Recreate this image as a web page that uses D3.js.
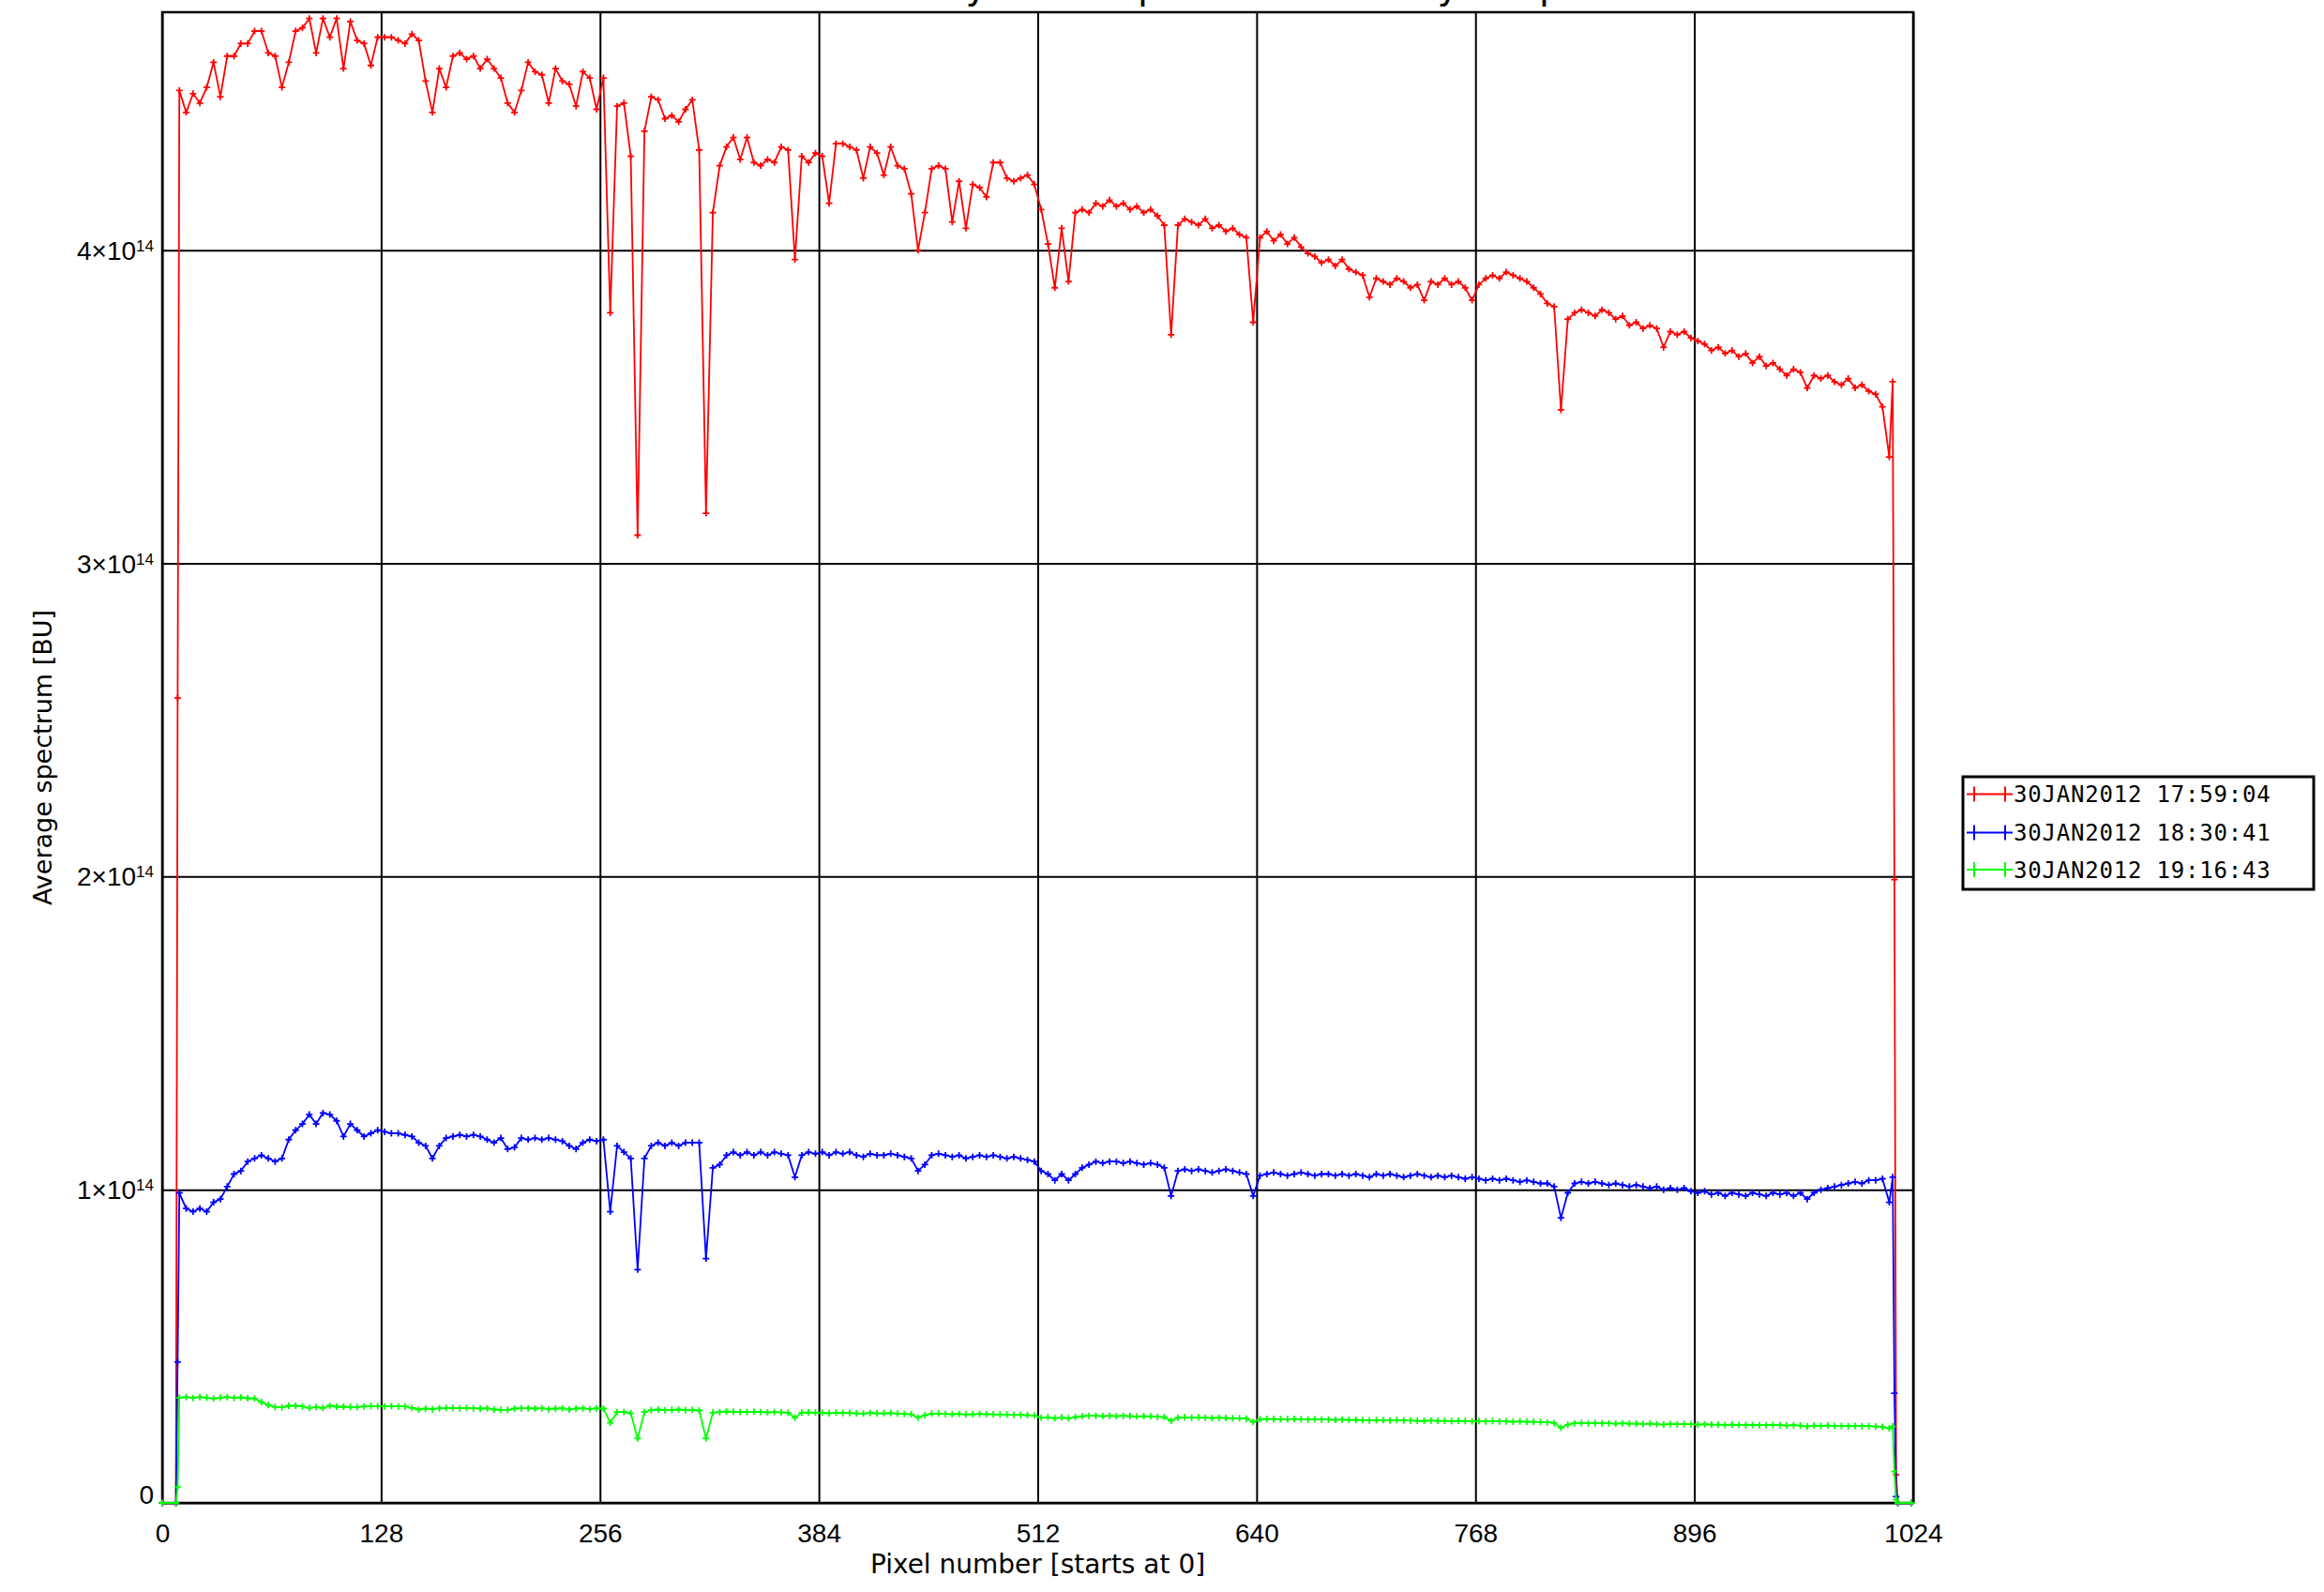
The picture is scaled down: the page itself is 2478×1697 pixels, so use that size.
<!DOCTYPE html>
<html><head><meta charset="utf-8">
<script src="https://cdn.jsdelivr.net/npm/d3@7"></script>
<style>html,body{margin:0;padding:0;background:#fff;} svg{display:block}</style>
</head><body>
<svg id="chart" width="2478" height="1697"></svg>
<script>
// Pixel numbers (x categories) at which values were read
const pixels = [0, 8, 9,
10,14,18,22,26,30,34,38,42,46,
50,54,58,62,66,70,74,78,82,86,
90,94,98,102,106,110,114,118,122,126,
130,134,138,142,146,150,154,158,162,166,
170,174,178,182,186,190,194,198,202,206,
210,214,218,222,226,230,234,238,242,246,
250,254,258,262,266,270,274,278,282,286,
290,294,298,302,306,310,314,318,322,326,
330,334,338,342,346,350,354,358,362,366,
370,374,378,382,386,390,394,398,402,406,
410,414,418,422,426,430,434,438,442,446,
450,454,458,462,466,470,474,478,482,486,
490,494,498,502,506,510,514,518,522,526,
530,534,538,542,546,550,554,558,562,566,
570,574,578,582,586,590,594,598,602,606,
610,614,618,622,626,630,634,638,642,646,
650,654,658,662,666,670,674,678,682,686,
690,694,698,702,706,710,714,718,722,726,
730,734,738,742,746,750,754,758,762,766,
770,774,778,782,786,790,794,798,802,806,
810,814,818,822,826,830,834,838,842,846,
850,854,858,862,866,870,874,878,882,886,
890,894,898,902,906,910,914,918,922,926,
930,934,938,942,946,950,954,958,962,966,
970,974,978,982,986,990,994,998,1002,1006,
1010, 1012, 1013, 1014, 1015, 1023];

// Values in units of 1e14 BU
const spec1759 = [0, 0, 2.57,
4.51,4.44,4.50,4.47,4.52,4.60,4.49,4.62,4.62,4.66,
4.66,4.70,4.70,4.63,4.62,4.52,4.60,4.70,4.71,4.74,
4.63,4.74,4.68,4.74,4.58,4.73,4.67,4.66,4.59,4.68,
4.68,4.68,4.67,4.66,4.69,4.67,4.54,4.44,4.58,4.52,
4.62,4.63,4.61,4.62,4.58,4.61,4.58,4.55,4.47,4.44,
4.51,4.60,4.57,4.56,4.47,4.58,4.54,4.53,4.46,4.57,
4.55,4.45,4.55,3.80,4.46,4.47,4.30,3.09,4.38,4.49,
4.48,4.42,4.43,4.41,4.45,4.48,4.32,3.16,4.12,4.27,
4.33,4.36,4.29,4.36,4.28,4.27,4.29,4.28,4.33,4.32,
3.97,4.30,4.28,4.31,4.30,4.15,4.34,4.34,4.33,4.32,
4.23,4.33,4.31,4.24,4.33,4.27,4.26,4.18,4.00,4.12,
4.26,4.27,4.26,4.09,4.22,4.07,4.21,4.20,4.17,4.28,
4.28,4.23,4.22,4.23,4.24,4.21,4.13,4.02,3.88,4.07,
3.90,4.12,4.13,4.12,4.15,4.14,4.16,4.14,4.15,4.13,
4.14,4.12,4.13,4.11,4.08,3.73,4.08,4.10,4.09,4.08,
4.10,4.07,4.08,4.06,4.07,4.05,4.04,3.77,4.04,4.06,
4.03,4.05,4.02,4.04,4.01,3.99,3.98,3.96,3.97,3.95,
3.97,3.94,3.93,3.92,3.85,3.91,3.90,3.89,3.91,3.90,
3.88,3.89,3.84,3.90,3.89,3.91,3.89,3.90,3.88,3.84,
3.89,3.91,3.92,3.91,3.93,3.92,3.91,3.90,3.88,3.86,
3.83,3.82,3.49,3.78,3.80,3.81,3.80,3.79,3.81,3.80,
3.78,3.79,3.76,3.77,3.75,3.76,3.75,3.69,3.74,3.73,
3.74,3.72,3.71,3.70,3.68,3.69,3.67,3.68,3.66,3.67,
3.64,3.66,3.63,3.64,3.62,3.60,3.62,3.61,3.56,3.60,
3.59,3.60,3.58,3.57,3.59,3.56,3.57,3.55,3.54,3.50,
3.34, 3.58, 1.99, 0.09, 0, 0];

const spec1830 = [0, 0, 0.45,
0.99,0.94,0.93,0.94,0.93,0.96,0.97,1.01,1.05,1.06,
1.09,1.10,1.11,1.10,1.09,1.10,1.16,1.19,1.21,1.24,
1.21,1.245,1.24,1.22,1.17,1.21,1.19,1.17,1.18,1.19,
1.185,1.18,1.18,1.175,1.17,1.15,1.14,1.10,1.14,1.165,
1.17,1.175,1.17,1.175,1.17,1.16,1.15,1.165,1.13,1.135,
1.165,1.16,1.165,1.16,1.165,1.16,1.155,1.14,1.13,1.15,
1.16,1.155,1.16,0.93,1.14,1.12,1.10,0.745,1.10,1.14,
1.15,1.14,1.15,1.14,1.15,1.15,1.15,0.78,1.07,1.08,
1.11,1.12,1.11,1.12,1.11,1.12,1.11,1.12,1.115,1.11,
1.04,1.11,1.12,1.115,1.12,1.11,1.12,1.115,1.12,1.11,
1.105,1.115,1.11,1.11,1.115,1.11,1.105,1.10,1.06,1.08,
1.11,1.115,1.11,1.105,1.11,1.10,1.105,1.11,1.105,1.11,
1.105,1.10,1.105,1.10,1.095,1.09,1.06,1.05,1.03,1.05,
1.03,1.05,1.07,1.08,1.09,1.085,1.09,1.09,1.085,1.09,
1.085,1.08,1.085,1.08,1.07,0.98,1.06,1.065,1.06,1.065,
1.06,1.055,1.06,1.065,1.06,1.055,1.05,0.98,1.045,1.05,
1.055,1.05,1.045,1.05,1.055,1.05,1.045,1.05,1.05,1.045,
1.05,1.045,1.05,1.045,1.04,1.05,1.045,1.05,1.045,1.04,
1.045,1.05,1.045,1.04,1.045,1.04,1.045,1.04,1.035,1.04,
1.035,1.03,1.035,1.03,1.035,1.03,1.025,1.03,1.025,1.02,
1.02,1.01,0.91,0.99,1.02,1.025,1.02,1.025,1.02,1.015,
1.02,1.015,1.01,1.015,1.01,1.005,1.01,1.0,1.005,1.0,
1.005,0.995,0.99,0.995,0.985,0.99,0.98,0.99,0.985,0.98,
0.99,0.985,0.98,0.99,0.985,0.99,0.98,0.99,0.97,0.99,
1.0,1.005,1.01,1.015,1.02,1.025,1.02,1.03,1.03,1.035,
0.96, 1.04, 0.35, 0.02, 0, 0];

const spec1916 = [0, 0, 0.05,
0.336,0.338,0.335,0.338,0.336,0.333,0.336,0.338,0.335,0.337,
0.334,0.333,0.322,0.312,0.306,0.305,0.31,0.31,0.308,0.303,
0.306,0.303,0.31,0.307,0.307,0.306,0.306,0.308,0.309,0.309,
0.308,0.309,0.308,0.308,0.303,0.298,0.301,0.299,0.302,0.303,
0.303,0.302,0.303,0.302,0.301,0.302,0.298,0.297,0.297,0.301,
0.302,0.302,0.301,0.302,0.299,0.301,0.302,0.298,0.301,0.302,
0.299,0.302,0.301,0.256,0.29,0.29,0.286,0.206,0.29,0.296,
0.298,0.296,0.297,0.298,0.296,0.297,0.295,0.206,0.288,0.29,
0.292,0.291,0.29,0.29,0.291,0.29,0.289,0.29,0.289,0.288,
0.272,0.288,0.289,0.288,0.288,0.286,0.288,0.287,0.287,0.286,
0.285,0.287,0.286,0.286,0.287,0.285,0.284,0.283,0.272,0.28,
0.285,0.285,0.284,0.283,0.284,0.282,0.283,0.284,0.283,0.283,
0.282,0.282,0.281,0.281,0.28,0.279,0.272,0.273,0.27,0.273,
0.27,0.274,0.277,0.278,0.278,0.277,0.278,0.277,0.278,0.277,
0.276,0.277,0.276,0.275,0.274,0.262,0.272,0.273,0.272,0.273,
0.272,0.271,0.272,0.271,0.27,0.27,0.269,0.258,0.267,0.268,
0.268,0.267,0.267,0.268,0.267,0.266,0.267,0.266,0.266,0.265,
0.266,0.265,0.265,0.264,0.263,0.264,0.264,0.263,0.264,0.263,
0.263,0.262,0.262,0.263,0.262,0.262,0.261,0.262,0.261,0.26,
0.261,0.26,0.261,0.26,0.26,0.259,0.26,0.259,0.259,0.258,
0.257,0.255,0.24,0.25,0.254,0.255,0.254,0.255,0.254,0.254,
0.253,0.254,0.253,0.253,0.252,0.253,0.252,0.25,0.252,0.251,
0.252,0.251,0.25,0.251,0.25,0.25,0.249,0.25,0.249,0.248,
0.249,0.248,0.248,0.249,0.248,0.247,0.248,0.247,0.244,0.247,
0.246,0.247,0.246,0.246,0.245,0.246,0.245,0.245,0.244,0.243,
0.238, 0.244, 0.10, 0.01, 0, 0];

const seriesLabels = ["30JAN2012 17:59:04", "30JAN2012 18:30:41", "30JAN2012 19:16:43"];
const seriesColors = ["#ff0000", "#0000ff", "#00ff00"];
const xTickValues = [0, 128, 256, 384, 512, 640, 768, 896, 1024];
const yTickValues = [0, 1, 2, 3, 4];
const yTickExponent = "14";
const titleText = "Daily mean spectrum of a day of spectra";
const xTitleText = "Pixel number [starts at 0]";
const yTitleText = "Average spectrum [BU]";

const svg = d3.select("#chart");
const L = 173, R = 2040, T = 13, B = 1602;
const x = d3.scaleLinear().domain([0, 1024]).range([L, R]);
const y = d3.scaleLinear().domain([0, 4.76]).range([B, T]);

svg.append("rect").attr("width", 2478).attr("height", 1697).attr("fill", "#fff");

// title (mostly above the page edge, as in the original)
svg.append("text").attr("x", 952).attr("y", -2)
  .attr("font-family", "DejaVu Sans").attr("font-size", 40).attr("fill", "#000")
  .text(titleText);

// grid via axes
const gx = svg.append("g").attr("transform", `translate(0,${B})`)
  .call(d3.axisBottom(x).tickValues(xTickValues).tickSize(-(B - T)).tickPadding(22).tickFormat(d3.format("d")));
gx.select(".domain").remove();
gx.selectAll(".tick line").attr("stroke", "#000").attr("stroke-width", 2);
gx.selectAll(".tick text").attr("font-family", "Liberation Sans").attr("font-size", 28).attr("fill", "#000");

const gy = svg.append("g").attr("transform", `translate(${L},0)`)
  .call(d3.axisLeft(y).tickValues(yTickValues).tickSize(-(R - L)).tickPadding(9).tickFormat(""));
gy.select(".domain").remove();
gy.selectAll(".tick line").attr("stroke", "#000").attr("stroke-width", 2);
gy.selectAll(".tick text").each(function(d) {
  const t = d3.select(this);
  t.attr("font-family", "Liberation Sans").attr("font-size", 28).attr("fill", "#000")
   .attr("dy", d === 0 ? "0.02em" : "0.34em");
  if (d === 0) { t.text("0"); }
  else {
    t.append("tspan").text(d + "\u00d710");
    t.append("tspan").attr("font-size", 17).attr("dy", -9).text(yTickExponent);
  }
});

// frame
svg.append("rect").attr("x", L).attr("y", T).attr("width", R - L).attr("height", B - T)
  .attr("fill", "none").attr("stroke", "#000").attr("stroke-width", 2.5);

// axis titles
svg.append("text").attr("x", (L + R) / 2).attr("y", 1677).attr("text-anchor", "middle")
  .attr("font-family", "DejaVu Sans").attr("font-size", 28).attr("fill", "#000").text(xTitleText);
svg.append("text").attr("transform", `translate(55,${(T + B) / 2}) rotate(-90)`).attr("text-anchor", "middle")
  .attr("font-family", "DejaVu Sans").attr("font-size", 27).attr("fill", "#000").text(yTitleText);

// data
const allSeries = [spec1759, spec1830, spec1916];
const line = d3.line().x((d, i) => x(pixels[i])).y(d => y(d));
allSeries.forEach((vals, k) => {
  const g = svg.append("g");
  g.append("path").attr("d", line(vals)).attr("fill", "none")
    .attr("stroke", seriesColors[k]).attr("stroke-width", 1.8).attr("stroke-linejoin", "miter");
  const s = 3.5;
  const markerPath = vals.map((v, i) => {
    const px = x(pixels[i]), py = y(v);
    return `M${px - s},${py}h${2 * s}M${px},${py - s}v${2 * s}`;
  }).join("");
  g.append("path").attr("d", markerPath).attr("fill", "none")
    .attr("stroke", seriesColors[k]).attr("stroke-width", 1.8);
});

// legend
const lg = svg.append("g");
lg.append("rect").attr("x", 2093).attr("y", 828).attr("width", 374).attr("height", 120)
  .attr("fill", "#fff").attr("stroke", "#000").attr("stroke-width", 3);
const rowY = [846.5, 887.5, 927];
seriesLabels.forEach((lab, k) => {
  const yy = rowY[k];
  lg.append("path")
    .attr("d", `M2097,${yy}H2146M2105,${yy - 8}v16M2138,${yy - 8}v16`)
    .attr("stroke", seriesColors[k]).attr("stroke-width", 2).attr("fill", "none");
  lg.append("text").attr("x", 2147).attr("y", yy + 8.5)
    .attr("font-family", "DejaVu Sans Mono").attr("font-size", 24).attr("letter-spacing", 0.8)
    .attr("fill", "#000").text(lab);
});
</script>
</body></html>
